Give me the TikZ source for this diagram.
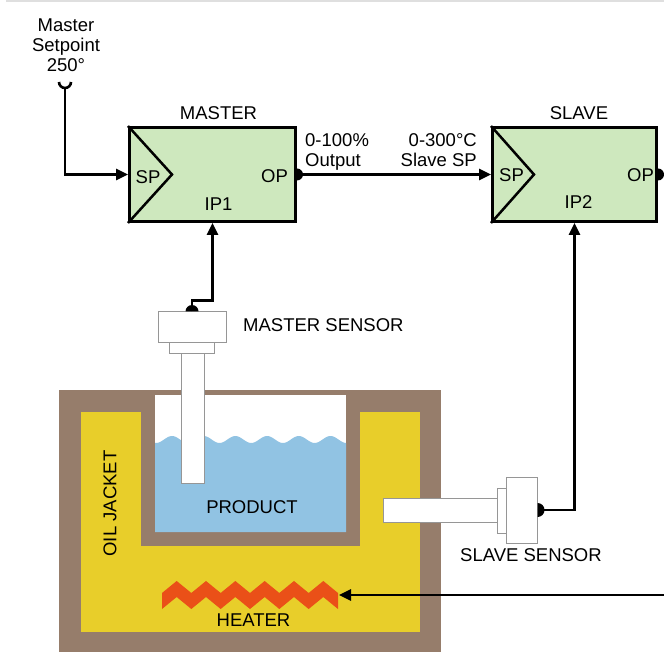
\documentclass[tikz,border=0pt]{standalone}
\usepackage{fontspec}
\setmainfont{Liberation Sans}
\usetikzlibrary{arrows.meta}

\definecolor{boxgreen}{RGB}{206,232,190}
\definecolor{tankbrown}{RGB}{150,125,107}
\definecolor{oilyellow}{RGB}{232,206,42}
\definecolor{liquidblue}{RGB}{145,195,227}
\definecolor{heaterred}{RGB}{234,80,24}
\definecolor{sensorgray}{RGB}{150,150,150}

\tikzset{
  ctrlbox/.style={draw, line width=3pt, fill=boxgreen, minimum width=166pt, minimum height=94pt, inner sep=0pt},
  lbl/.style={font=\fontsize{18.5}{20}\selectfont, inner sep=0pt, anchor=base},
  conn/.style={line width=2.6pt},
  sig/.style={conn, -{Triangle[length=12pt,width=11pt]}},
  sensorpart/.style={draw=sensorgray, line width=1pt, fill=white, inner sep=0pt}
}

\begin{document}
\begin{tikzpicture}[x=1pt,y=-1pt]
    \useasboundingbox (0,0) rectangle (664,652);

    % Thin rule along the top edge
    \fill[gray!25] (6,0) rectangle (664,2.5);

    % Draw the tank: outer wall, oil jacket, vessel wall, vessel
    \fill[tankbrown] (59,390) rectangle (441,652);
    \fill[oilyellow] (81,412) rectangle (420,632);
    \fill[tankbrown] (141,390) rectangle (360,546);
    \fill[white] (155,395) rectangle (346,532);

    % Liquid with a wavy surface
    \fill[liquidblue] (155,532) --
      plot[domain=155:346, samples=120] (\x, {439.5-3.5*cos(11.356*(\x-172))})
      -- (346,532) -- cycle;

    % Heater element (zigzag band)
    \begin{scope}
      \clip (162,570) rectangle (338,620);
      \draw[heaterred, line width=12.4pt, miter limit=10]
        (147.3,589) \foreach \i in {0,...,6} { -- ({162+29.33*\i},601) -- ({176.67+29.33*\i},589) };
    \end{scope}

    % Labels inside the tank
    \node[lbl] (product) at (252,513) {PRODUCT};
    \node[lbl] (heater) at (253.5,626.7) {HEATER};
    \node[lbl, rotate=90, anchor=center] (jacket) at (110,503.5) {OIL JACKET};

    % Master sensor
    \draw[sensorpart] (181,353) rectangle (204,483);
    \draw[sensorpart] (169,342) rectangle (214,353);
    \node[sensorpart, minimum width=68pt, minimum height=30pt] (msens) at (192,327) {};
    \fill (msens.north) ++(-6.5,0) arc[start angle=180, end angle=360, radius=6.5] -- cycle;
    \node[lbl, anchor=base west] (msenslbl) at (243,331) {MASTER SENSOR};

    % Slave sensor
    \draw[sensorpart] (383,498) rectangle (497,522);
    \draw[sensorpart] (497,488) rectangle (506,533);
    \node[sensorpart, minimum width=31pt, minimum height=66pt] (ssens) at (521.5,510) {};
    \fill (ssens.east) ++(0,-7) arc[start angle=-90, end angle=90, radius=7] -- cycle;
    \node[lbl, anchor=base west] (ssenslbl) at (460,561.7) {SLAVE SENSOR};

    % Controllers
    \node[ctrlbox] (master) at (212.5,174.5) {};
    \node[ctrlbox, minimum width=164pt] (slave) at (574.5,174.5) {};
    \draw[line width=2.5pt] (master.north west) -- ([xshift=44pt]master.west) -- (master.south west);
    \draw[line width=2.5pt] (slave.north west) -- ([xshift=43pt]slave.west) -- (slave.south west);
    \fill (master.east) ++(0,-6) arc[start angle=-90, end angle=90, radius=6] -- cycle;
    \fill (slave.east) ++(0,-6) arc[start angle=-90, end angle=90, radius=6] -- cycle;

    % Controller texts
    \node[lbl] (mtitle) at (218.5,119.5) {MASTER};
    \node[lbl] (msp) at (148,184) {SP};
    \node[lbl] (mop) at (274.5,182.7) {OP};
    \node[lbl] (mip) at (218.5,210.7) {IP1};
    \node[lbl] (stitle) at (579,119.3) {SLAVE};
    \node[lbl] (ssp) at (511.5,181.7) {SP};
    \node[lbl] (sop) at (640.5,182) {OP};
    \node[lbl] (sip) at (578.5,209) {IP2};

    % Setpoint and signal labels (base = last line)
    \node[lbl, align=center] (setpt) at (66,71.7) {Master\\Setpoint\\250°};
    \node[lbl, align=left, anchor=base west] (mout) at (305,166.5) {0-100\%\\Output};
    \node[lbl, align=right, anchor=base east] (sin) at (477,166.5) {0-300°C\\Slave SP};

    % Connectors
    \coordinate (spcup) at (65,88);
    \coordinate (opout) at (664,174.5);
    \coordinate (heaterin) at (664,595);
    \coordinate (heatertip) at (339,595);
    \draw[conn] (59,82) arc[start angle=180, end angle=0, radius=6];
    \draw[sig] (spcup) |- (master.west);
    \draw[sig] (master.east) -- (slave.west);
    \draw[sig] (msens.north) -- ++(0,-11) -| (master.south);
    \draw[sig] (ssens.east) -| (slave.south);
    \draw[conn] (slave.east) -- (opout);
    \draw[sig] (heaterin) -- (heatertip);

\end{tikzpicture}
\end{document}
